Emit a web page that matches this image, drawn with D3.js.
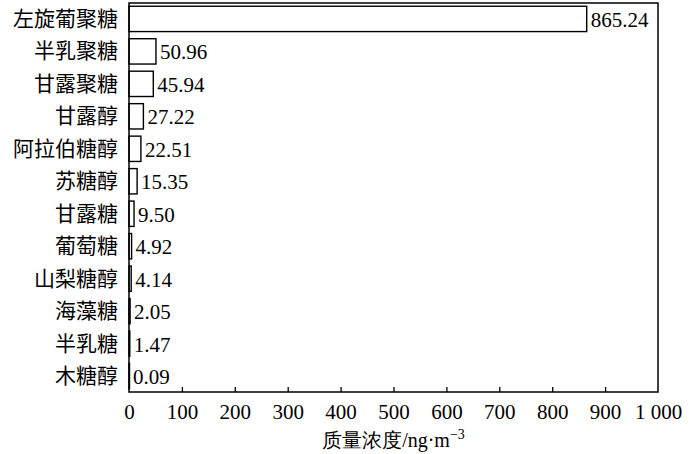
<!DOCTYPE html>
<html><head><meta charset="utf-8">
<script src="https://cdn.jsdelivr.net/npm/d3@7"></script>
<style>
body{margin:0;background:#fff;}
text.num, .tick text{font-family:"Times New Roman","Liberation Serif",Times,serif !important;fill:#000;}
text.cjk{font-family:"Noto Sans CJK SC",sans-serif;fill:#000;}
</style></head>
<body>
<svg id="chart" width="700" height="454"></svg>
<script>
const categories = ["左旋葡聚糖","半乳聚糖","甘露聚糖","甘露醇","阿拉伯糖醇","苏糖醇","甘露糖","葡萄糖","山梨糖醇","海藻糖","半乳糖","木糖醇"];
const values = [865.24, 50.96, 45.94, 27.22, 22.51, 15.35, 9.50, 4.92, 4.14, 2.05, 1.47, 0.09];
const valueLabels = ["865.24","50.96","45.94","27.22","22.51","15.35","9.50","4.92","4.14","2.05","1.47","0.09"];
const xTicks = [0,100,200,300,400,500,600,700,800,900,1000];
const xTickLabels = ["0","100","200","300","400","500","600","700","800","900","1 000"];

const svg = d3.select("#chart");
const mLeft = 129, mRight = 658, mTop = 3, mBottom = 392;
const x = d3.scaleLinear().domain([0,1000]).range([mLeft,mRight]);
const y = d3.scaleBand().domain(categories).range([mTop,mBottom]).paddingInner(0.22).paddingOuter(0.1);

// bars
svg.selectAll("rect.bar").data(categories).enter().append("rect")
  .attr("class","bar")
  .attr("x", x(0))
  .attr("y", d => y(d))
  .attr("width", (d,i) => Math.max(x(values[i]) - x(0), 0.5))
  .attr("height", y.bandwidth())
  .attr("fill","#fff").attr("stroke","#000").attr("stroke-width",1.4);

// value labels
svg.selectAll("text.val").data(categories).enter().append("text")
  .attr("class","val num")
  .attr("x", (d,i) => x(values[i]) + 4)
  .attr("y", d => y(d) + y.bandwidth()/2 + 8)
  .attr("font-size", 21)
  .text((d,i) => valueLabels[i]);

// category labels
svg.selectAll("text.cat").data(categories).enter().append("text")
  .attr("class","cat cjk")
  .attr("x", 118)
  .attr("y", d => y(d) + y.bandwidth()/2 + 7)
  .attr("text-anchor","end")
  .attr("font-size", 21)
  .text(d => d);

// frame
svg.append("rect").attr("x",mLeft).attr("y",mTop).attr("width",mRight-mLeft).attr("height",mBottom-mTop)
  .attr("fill","none").attr("stroke","#000").attr("stroke-width",1.5);

// bottom axis with inward ticks
const axis = d3.axisBottom(x).tickValues(xTicks).tickSize(-5).tickPadding(12)
  .tickFormat((d,i) => xTickLabels[i]);
const g = svg.append("g").attr("transform",`translate(0,${mBottom})`).call(axis);
g.select(".domain").remove();
g.selectAll(".tick line").attr("stroke","#000").attr("stroke-width",1.3);
g.selectAll(".tick text").attr("font-size",21).attr("fill","#000");
g.selectAll(".tick").filter(d => d===0 || d===1000).select("line").remove();

// axis title
const t = svg.append("text").attr("x",(mLeft+mRight)/2).attr("y",447).attr("text-anchor","middle").attr("font-size",20);
t.append("tspan").attr("class","cjk").text("质量浓度");
t.append("tspan").attr("class","num").attr("font-family",'"Times New Roman","Liberation Serif",serif').text("/ng·m");
t.append("tspan").attr("font-family",'"Times New Roman","Liberation Serif",serif').attr("dy",-8).attr("font-size",14).text("−3");
</script>
</body></html>
